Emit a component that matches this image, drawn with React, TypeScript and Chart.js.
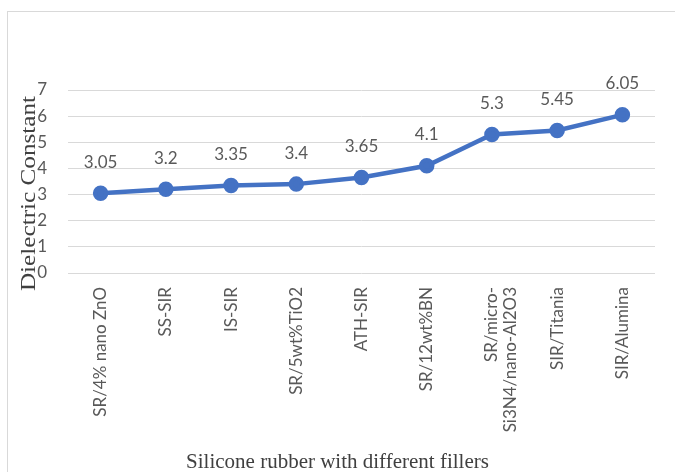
import React, { useEffect, useRef } from "react";
import { Chart, registerables } from "chart.js";

Chart.register(...registerables);

const categories: (string | string[])[] = [
  "SR/4% nano ZnO",
  "SS-SIR",
  "IS-SIR",
  "SR/5wt%TiO2",
  "ATH-SIR",
  "SR/12wt%BN",
  ["SR/micro-", "Si3N4/nano-Al2O3"],
  "SIR/Titania",
  "SIR/Alumina",
];
const values = [3.05, 3.2, 3.35, 3.4, 3.65, 4.1, 5.3, 5.45, 6.05];
const yMin = 0;
const yMax = 7;
const yStep = 1;
const xTitle = "Silicone rubber with different fillers";
const yTitle = "Dielectric Constant";

const LINE_COLOR = "#4472C4";
const TEXT_COLOR = "#595959";
const GRID_COLOR = "#d9d9d9";

const labelsPlugin = {
  id: "customLabels",
  afterDatasetsDraw(chart: any) {
    const ctx = chart.ctx;
    const meta = chart.getDatasetMeta(0);
    ctx.save();
    ctx.font = '17px "Lato"';
    ctx.fillStyle = TEXT_COLOR;
    ctx.textAlign = "center";
    ctx.textBaseline = "middle";
    meta.data.forEach((pt: any, i: number) => {
      ctx.fillText(String(values[i]), pt.x, pt.y - 31);
    });
    ctx.restore();
  },
  afterDraw(chart: any) {
    const ctx = chart.ctx;
    const area = chart.chartArea;
    ctx.save();
    ctx.fillStyle = "#404040";
    ctx.font = '21px "Liberation Serif"';
    ctx.textAlign = "center";
    ctx.textBaseline = "alphabetic";
    ctx.fillText(xTitle, chart.width / 2, chart.height - 4);
    ctx.translate(35, (area.top + area.bottom) / 2 + 12);
    ctx.rotate(-Math.PI / 2);
    ctx.scale(1.2, 1);
    ctx.font = '21px "Liberation Serif"';
    ctx.fillText(yTitle, 0, 0);
    ctx.restore();
  },
};

export default function App() {
  const ref = useRef<HTMLCanvasElement | null>(null);
  useEffect(() => {
    if (!ref.current) return;
    const chart = new Chart(ref.current, {
      type: "line",
      data: {
        labels: categories as any,
        datasets: [
          {
            data: values,
            borderColor: LINE_COLOR,
            backgroundColor: LINE_COLOR,
            borderWidth: 4.5,
            pointRadius: 5.5,
            pointBackgroundColor: LINE_COLOR,
            pointBorderColor: LINE_COLOR,
            tension: 0,
          },
        ],
      },
      options: {
        responsive: false,
        animation: false,
        layout: { padding: { top: 90, right: 20, left: 0, bottom: 0 } },
        plugins: {
          legend: { display: false },
          tooltip: { enabled: false },
          title: { display: false },
        },
        scales: {
          x: {
            type: "category",
            offset: true,
            grid: { display: false, drawTicks: false },
            border: { display: false },
            ticks: {
              color: TEXT_COLOR,
              font: { family: "Lato", size: 17, lineHeight: 1.1 },
              minRotation: 90,
              maxRotation: 90,
              padding: 14,
              autoSkip: false,
            },
            afterFit: (s: any) => {
              s.height = 199;
            },
          },
          y: {
            min: yMin,
            max: yMax,
            grid: { color: GRID_COLOR, lineWidth: 1, drawTicks: false },
            border: { display: false },
            ticks: {
              stepSize: yStep,
              color: TEXT_COLOR,
              font: { family: "Lato", size: 17 },
              padding: 21,
            },
            afterFit: (s: any) => {
              s.width = 68;
            },
          },
        },
      },
      plugins: [labelsPlugin],
    });
    return () => chart.destroy();
  }, []);

  return (
    <div
      style={{
        position: "absolute",
        left: 0,
        top: 0,
        width: 675,
        height: 472,
        overflow: "hidden",
        background: "#ffffff",
      }}
    >
      <div
        style={{
          position: "absolute",
          left: 7,
          top: 11,
          width: 720,
          height: 520,
          border: "1px solid #d9d9d9",
        }}
      />
      <canvas
        ref={ref}
        width={675}
        height={472}
        style={{ position: "absolute", left: 0, top: 0, width: 675, height: 472 }}
      />
    </div>
  );
}
